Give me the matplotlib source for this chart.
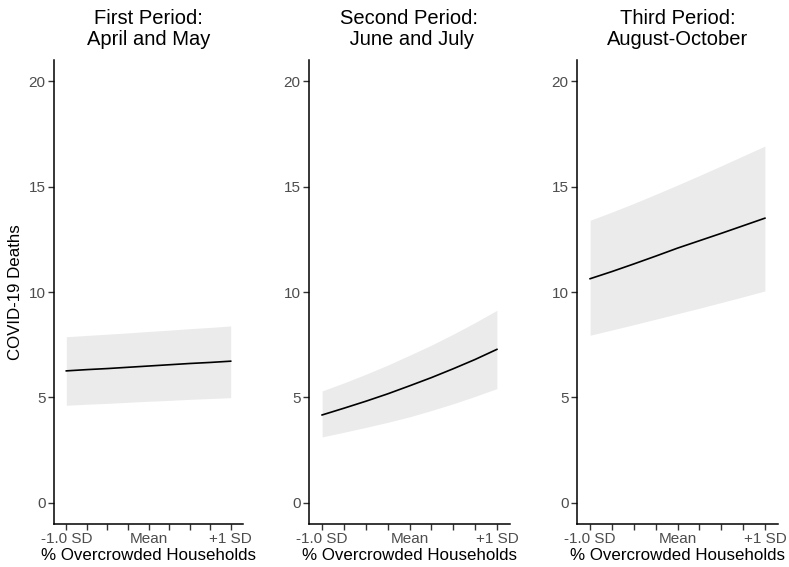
import matplotlib
matplotlib.use("Agg")
import matplotlib.pyplot as plt

plt.rcParams['font.family'] = ['Liberation Sans', 'DejaVu Sans']

# Data (x in SD units of % overcrowded households)
x_vals = [-1.0, -0.75, -0.5, -0.25, 0.0, 0.25, 0.5, 0.75, 1.0]

titles = ["First Period:\nApril and May",
          "Second Period:\n June and July",
          "Third Period:\nAugust-October"]

fit_p1 = [6.26, 6.32, 6.37, 6.43, 6.49, 6.55, 6.61, 6.66, 6.72]
low_p1 = [4.63, 4.68, 4.72, 4.77, 4.82, 4.86, 4.91, 4.95, 4.99]
upp_p1 = [7.88, 7.94, 8.00, 8.06, 8.13, 8.19, 8.26, 8.32, 8.39]

fit_p2 = [4.17, 4.49, 4.82, 5.17, 5.55, 5.94, 6.36, 6.80, 7.28]
low_p2 = [3.13, 3.35, 3.58, 3.82, 4.08, 4.38, 4.70, 5.05, 5.42]
upp_p2 = [5.31, 5.69, 6.10, 6.53, 7.00, 7.48, 8.00, 8.55, 9.13]

fit_p3 = [10.63, 10.97, 11.33, 11.70, 12.08, 12.43, 12.78, 13.14, 13.50]
low_p3 = [7.95, 8.20, 8.45, 8.71, 8.97, 9.23, 9.50, 9.77, 10.05]
upp_p3 = [13.40, 13.79, 14.20, 14.63, 15.07, 15.52, 15.98, 16.45, 16.92]

x_ticks = [-1.0, -0.75, -0.5, -0.25, 0.0, 0.25, 0.5, 0.75, 1.0]
x_tick_labels = ["-1.0 SD", "", "", "", "Mean", "", "", "", "+1 SD"]
y_ticks = [0, 5, 10, 15, 20]

fits = [fit_p1, fit_p2, fit_p3]
lows = [low_p1, low_p2, low_p3]
upps = [upp_p1, upp_p2, upp_p3]

W, H = 789, 567
fig = plt.figure(figsize=(W / 100, H / 100), dpi=100)

# axes boxes in pixels: left, right, top, bottom
boxes = [(54, 243, 60, 524), (309, 510, 60, 524), (577, 778, 60, 524)]

for i, (l, r, t, b) in enumerate(boxes):
    ax = fig.add_axes([l / W, 1 - b / H, (r - l) / W, (b - t) / H])
    ax.fill_between(x_vals, lows[i], upps[i], color='#EBEBEB', linewidth=0)
    ax.plot(x_vals, fits[i], color='black', linewidth=1.2)
    ax.set_xlim(-1.15, 1.15)
    ax.set_ylim(-1, 21)
    ax.set_xticks(x_ticks)
    ax.set_xticklabels(x_tick_labels)
    ax.set_yticks(y_ticks)
    for s in ['top', 'right']:
        ax.spines[s].set_visible(False)
    for s in ['left', 'bottom']:
        ax.spines[s].set_linewidth(1.1)
        ax.spines[s].set_color('black')
    ax.tick_params(axis='both', length=4, width=1.0, color='#333333',
                   labelcolor='#4D4D4D', labelsize=11, pad=2)
    ax.set_xlabel("% Overcrowded Households", fontsize=12.2, color='black', labelpad=1)
    if i == 0:
        ax.set_ylabel("COVID-19 Deaths", fontsize=12.2, color='black', labelpad=4)
    ax.set_title(titles[i], fontsize=14.5, color='black', pad=11, linespacing=1.1)

fig.savefig("out.png", dpi=100)
